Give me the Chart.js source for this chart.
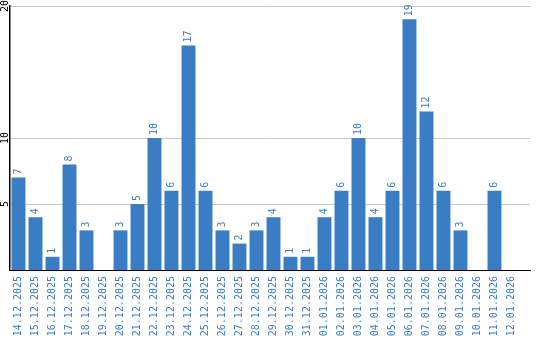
<!DOCTYPE html>
<html>
<head>
<meta charset="utf-8">
<script src="https://cdn.jsdelivr.net/npm/chart.js@4"></script>
<style>
  html, body { margin: 0; padding: 0; background: #fff; }
  #wrap { width: 540px; height: 340px; }
</style>
</head>
<body>
<div id="wrap"><canvas id="myChart"></canvas></div>
<script>
// Dates on the x axis
const days = [
  "14.12.2025", "15.12.2025", "16.12.2025", "17.12.2025", "18.12.2025",
  "19.12.2025", "20.12.2025", "21.12.2025", "22.12.2025", "23.12.2025",
  "24.12.2025", "25.12.2025", "26.12.2025", "27.12.2025", "28.12.2025",
  "29.12.2025", "30.12.2025", "31.12.2025", "01.01.2026", "02.01.2026",
  "03.01.2026", "04.01.2026", "05.01.2026", "06.01.2026", "07.01.2026",
  "08.01.2026", "09.01.2026", "10.01.2026", "11.01.2026", "12.01.2026"
];

// Count per day
const counts = [
  7, 4, 1, 8, 3, 0, 3, 5, 10, 6,
  17, 6, 3, 2, 3, 4, 1, 1, 4, 6,
  10, 4, 6, 19, 12, 6, 3, 0, 6, 0
];

// Y axis tick values that are shown
const yTicks = [5, 10, 20];

const blue = "#3b7dc4";
const mono = "'DejaVu Sans Mono', monospace";

// Draw rotated y tick labels and the value above each bar
const labelPlugin = {
  id: "labels",
  afterDatasetsDraw(chart) {
    const ctx = chart.ctx;
    const y = chart.scales.y;
    ctx.save();
    ctx.font = "10px " + mono;

    // y tick labels, rotated
    ctx.fillStyle = "#000";
    ctx.textAlign = "center";
    ctx.textBaseline = "middle";
    yTicks.forEach((v) => {
      ctx.save();
      ctx.translate(5, y.getPixelForValue(v));
      ctx.rotate(-Math.PI / 2);
      ctx.fillText(String(v), 0, 0);
      ctx.restore();
    });

    // values above the bars
    ctx.fillStyle = blue;
    ctx.textAlign = "left";
    const meta = chart.getDatasetMeta(0);
    meta.data.forEach((bar, i) => {
      if (!counts[i]) return;
      ctx.save();
      ctx.translate(bar.x, bar.y - 3);
      ctx.rotate(-Math.PI / 2);
      ctx.fillText(String(counts[i]), 0, 0);
      ctx.restore();
    });
    ctx.restore();
  },
};

const ctx = document.getElementById("myChart").getContext("2d");
new Chart(ctx, {
  type: "bar",
  data: {
    datasets: [{
      data: counts.map((c, i) => ({ x: i, y: c })),
      backgroundColor: blue,
      borderWidth: 0,
      barPercentage: 0.82,
      categoryPercentage: 1,
    }],
  },
  options: {
    responsive: true,
    maintainAspectRatio: false,
    animation: false,
    layout: { padding: { left: 0, right: 10, top: 6, bottom: 0 } },
    plugins: {
      legend: { display: false },
      tooltip: { enabled: false },
    },
    scales: {
      x: {
        type: "linear",
        offset: false,
        min: -0.5,
        max: 30.09,
        afterFit: (s) => { s.height = 70; },
        afterBuildTicks: (s) => {
          s.ticks = days.map((d, i) => ({ value: i }));
        },
        grid: { display: false, drawTicks: false },
        border: { color: "#000", width: 1 },
        ticks: {
          autoSkip: false,
          minRotation: 90,
          maxRotation: 90,
          padding: 6,
          color: blue,
          font: { family: mono, size: 10 },
          callback: (v) => days[v] ?? "",
        },
      },
      y: {
        min: 0,
        max: 20,
        afterFit: (s) => { s.width = 10; },
        afterBuildTicks: (s) => {
          s.ticks = yTicks.map((v) => ({ value: v }));
        },
        grid: { color: "#c8c8c8", lineWidth: 1, drawTicks: false },
        border: { color: "#000", width: 1.5 },
        ticks: { display: false },
      },
    },
  },
  plugins: [labelPlugin],
});
</script>
</body>
</html>
